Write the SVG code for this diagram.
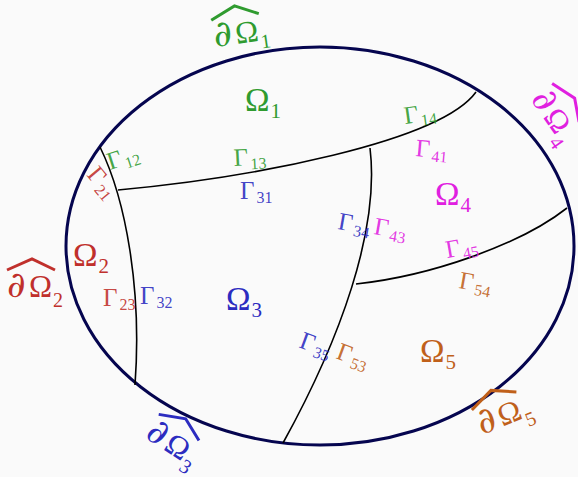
<svg xmlns="http://www.w3.org/2000/svg" width="578" height="477" viewBox="0 0 578 477">
<style>
text{font-family:"Liberation Serif","DejaVu Serif",serif;stroke:none}
.d{font-family:"DejaVu Serif","Liberation Serif",serif;font-size:36px}
.om{font-size:33px}
.oms{font-size:21px}
.g{font-size:25px;fill-opacity:0.9}
.gs{font-size:16px}
.b{font-size:31px}
.bs{font-size:20px}
.hat{fill:none;stroke-width:3;stroke-linejoin:miter}
.c1{fill:#2f9b2f;stroke:#2f9b2f}
.c2{fill:#c0302c;stroke:#c0302c}
.c3{fill:#2c2cc0;stroke:#2c2cc0}
.c4{fill:#e020e0;stroke:#e020e0}
.c5{fill:#c0601a;stroke:#c0601a}
.line{fill:none;stroke:#000;stroke-width:1.6}
</style>
<rect width="578" height="477" fill="#fafafa"/>
<g id="boundary">
<ellipse cx="320" cy="246" rx="254" ry="199" fill="none" stroke="#05054f" stroke-width="3"/>
</g>
<g id="connectors">
<path class="line" d="M100,147 C126,200 142,290 135,385"/>
<path class="line" d="M118,190 C250,178 440,142 476,92"/>
<path class="line" d="M370,148 C380,230 340,340 283,443"/>
<path class="line" d="M356,284 C430,276 520,245 567,208"/>
</g>
<g id="omega1" class="c1"><text class="om" x="245" y="111">Ω<tspan class="oms" dx="1" dy="7">1</tspan></text></g>
<g id="omega2" class="c2"><text class="om" x="73" y="266">Ω<tspan class="oms" dx="1" dy="7">2</tspan></text></g>
<g id="omega3" class="c3"><text class="om" x="226" y="310">Ω<tspan class="oms" dx="1" dy="7">3</tspan></text></g>
<g id="omega4" class="c4"><text class="om" x="435" y="205">Ω<tspan class="oms" dx="1" dy="7">4</tspan></text></g>
<g id="omega5" class="c5"><text class="om" x="420" y="362">Ω<tspan class="oms" dx="1" dy="7">5</tspan></text></g>
<g id="bd1" class="c1" transform="translate(215,47) rotate(-8)"><text class="d" x="0" y="0">∂</text><text class="b" x="22" y="0">Ω</text><text class="bs" x="46" y="8">1</text><path class="hat" d="M0,-27 L25,-38 L48,-27"/></g>
<g id="bd2" class="c2" transform="translate(7,297)"><text class="d" x="0" y="0">∂</text><text class="b" x="22" y="0">Ω</text><text class="bs" x="46" y="10">2</text><path class="hat" d="M0,-27 L25,-38 L48,-27"/></g>
<g id="bd3" class="c3" transform="translate(144,437) rotate(33)"><text class="d" x="0" y="0">∂</text><text class="b" x="22" y="0">Ω</text><text class="bs" x="46" y="9">3</text><path class="hat" d="M0,-27 L25,-38 L48,-27"/></g>
<g id="bd4" class="c4" transform="translate(530,99) rotate(55)"><text class="d" x="0" y="0">∂</text><text class="b" x="22" y="0">Ω</text><text class="bs" x="46" y="10">4</text><path class="hat" d="M0,-27 L25,-37 L47,-27"/></g>
<g id="bd5" class="c5" transform="translate(482,435) rotate(-22)"><text class="d" x="0" y="0">∂</text><text class="b" x="22" y="0">Ω</text><text class="bs" x="46" y="10">5</text><path class="hat" d="M0,-27 L25,-38 L48,-27"/></g>
<g id="gamma12" class="c1"><text class="g" x="110" y="170" transform="rotate(-18 110 170)">Γ<tspan class="gs" dx="2" dy="4">12</tspan></text></g>
<g id="gamma21" class="c2"><text class="g" x="86" y="175" transform="rotate(50 86 175)">Γ<tspan class="gs" dx="2" dy="4">21</tspan></text></g>
<g id="gamma13" class="c1"><text class="g" x="234" y="166" transform="rotate(-3 234 166)">Γ<tspan class="gs" dx="2" dy="4">13</tspan></text></g>
<g id="gamma31" class="c3"><text class="g" x="240" y="199">Γ<tspan class="gs" dx="2" dy="4">31</tspan></text></g>
<g id="gamma14" class="c1"><text class="g" x="405" y="124" transform="rotate(-8 405 124)">Γ<tspan class="gs" dx="2" dy="4">14</tspan></text></g>
<g id="gamma41" class="c4"><text class="g" x="415" y="156" transform="rotate(5 415 156)">Γ<tspan class="gs" dx="2" dy="4">41</tspan></text></g>
<g id="gamma34" class="c3"><text class="g" x="337" y="229" transform="rotate(10 337 229)">Γ<tspan class="gs" dx="2" dy="4">34</tspan></text></g>
<g id="gamma43" class="c4"><text class="g" x="373" y="234" transform="rotate(10 373 234)">Γ<tspan class="gs" dx="2" dy="4">43</tspan></text></g>
<g id="gamma45" class="c4"><text class="g" x="447" y="258" transform="rotate(-10 447 258)">Γ<tspan class="gs" dx="2" dy="4">45</tspan></text></g>
<g id="gamma54" class="c5"><text class="g" x="458" y="288" transform="rotate(10 458 288)">Γ<tspan class="gs" dx="2" dy="4">54</tspan></text></g>
<g id="gamma23" class="c2"><text class="g" x="103" y="306">Γ<tspan class="gs" dx="2" dy="4">23</tspan></text></g>
<g id="gamma32" class="c3"><text class="g" x="140" y="304">Γ<tspan class="gs" dx="2" dy="4">32</tspan></text></g>
<g id="gamma35" class="c3"><text class="g" x="298" y="347" transform="rotate(20 298 347)">Γ<tspan class="gs" dx="2" dy="4">35</tspan></text></g>
<g id="gamma53" class="c5"><text class="g" x="335" y="358" transform="rotate(20 335 358)">Γ<tspan class="gs" dx="2" dy="4">53</tspan></text></g>
</svg>
